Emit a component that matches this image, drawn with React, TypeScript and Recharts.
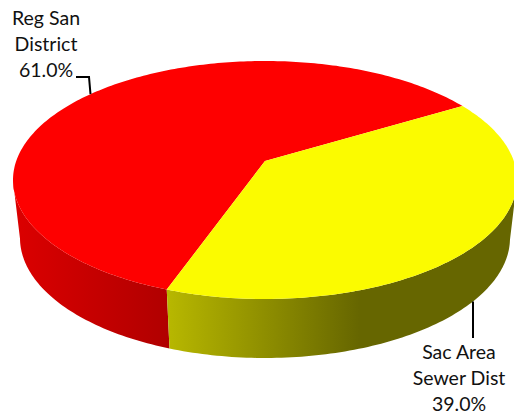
import { Pie, PieChart } from 'recharts';

const categories = ['Reg San District', 'Sac Area Sewer Dist'];
const labelLines = [
  ['Reg San', 'District', '61.0%'],
  ['Sac Area', 'Sewer Dist', '39.0%'],
];
const values = [61, 39];

const topColors = ['#fe0000', '#fbfb00'];
const wallStops = [
  [[0, '#dc0000'], [1, '#b00000']],
  [[0, '#b8b800'], [0.55, '#666600'], [1, '#666600']],
];

const CX = 265;
const CY = 180;
const RX = 252;
const RY_RATIO = 119 / 252;
// perspective: how far the pie's apex sits above the ellipse centre
const TILT = 0.16;
const BOTTOM_CY = 238;
const BOTTOM_RX = 245;
const BOTTOM_RY = 120;

const FONT = 'Lato, sans-serif';
const FONT_SIZE = 19.5;
const LINE_HEIGHT = 26;

const data = categories.map((name, i) => ({ name, value: values[i] }));

// unit circle point -> unit circle point, with the centre moved up by TILT
function project(angle: number) {
  const a = (angle * Math.PI) / 180;
  const u = Math.cos(a);
  const v = Math.sin(a);
  const d = 1 + TILT * v;
  return { x: (u * Math.sqrt(1 - TILT * TILT)) / d, y: (v + TILT) / d };
}

function rimPoints(start: number, end: number) {
  const steps = Math.max(2, Math.ceil(Math.abs(end - start)));
  const pts = [];
  for (let i = 0; i <= steps; i++) {
    pts.push(project(start + ((end - start) * i) / steps));
  }
  return pts;
}

function toPath(pts: { x: number; y: number }[]) {
  return pts.map((p, i) => `${i ? 'L' : 'M'}${p.x.toFixed(2)},${p.y.toFixed(2)}`).join(' ') + ' Z';
}

function Slice(props: any) {
  const { cx, cy, outerRadius, startAngle, endAngle, index } = props;
  const ry = outerRadius * RY_RATIO;
  const rim = rimPoints(startAngle, endAngle);
  const top = rim.map((p) => ({ x: cx + p.x * outerRadius, y: cy - p.y * ry }));
  const apex = { x: cx, y: cy - TILT * ry };

  // only the near half of the rim shows a wall
  const front = rim.filter((p) => p.y <= 0);
  const wallTop = front.map((p) => ({ x: cx + p.x * outerRadius, y: cy - p.y * ry }));
  const wallBottom = front.map((p) => ({ x: cx + p.x * BOTTOM_RX, y: BOTTOM_CY - p.y * BOTTOM_RY }));
  const wall = [...wallTop, ...wallBottom.reverse()];
  const xs = wall.map((p) => p.x);
  const id = `wall-${index}`;

  return (
    <g>
      <defs>
        <linearGradient id={id} gradientUnits="userSpaceOnUse" x1={Math.min(...xs)} x2={Math.max(...xs)} y1={0} y2={0}>
          {wallStops[index].map(([offset, color]) => (
            <stop key={offset} offset={offset} stopColor={color as string} />
          ))}
        </linearGradient>
      </defs>
      <path d={toPath(wall)} fill={`url(#${id})`} />
      <path d={toPath([apex, ...top])} fill={topColors[index]} />
    </g>
  );
}

function SliceLabel(props: any) {
  const { cx, cy, outerRadius, midAngle, index } = props;
  const p = project(midAngle);
  const lines = labelLines[index];

  if (index === 0) {
    const ry = outerRadius * RY_RATIO;
    const ex = cx + p.x * outerRadius;
    const ey = cy - p.y * ry;
    return (
      <g>
        <polyline points={`76,77 89,77 ${ex},${ey}`} fill="none" stroke="#000" strokeWidth={2} />
        {lines.map((t, i) => (
          <text key={t} x={46} y={25 + i * LINE_HEIGHT} textAnchor="middle" fontFamily={FONT} fontSize={FONT_SIZE} fill="#111">
            {t}
          </text>
        ))}
      </g>
    );
  }

  const ey = BOTTOM_CY - p.y * BOTTOM_RY;
  return (
    <g>
      <polyline points={`473,${ey} 473,338`} fill="none" stroke="#000" strokeWidth={2} />
      {lines.map((t, i) => (
        <text key={t} x={459} y={359 + i * LINE_HEIGHT} textAnchor="middle" fontFamily={FONT} fontSize={FONT_SIZE} fill="#111">
          {t}
        </text>
      ))}
    </g>
  );
}

export default function App() {
  return (
    <div style={{ position: 'absolute', left: 0, top: 0 }}>
      <PieChart width={514} height={415} margin={{ top: 0, right: 0, bottom: 0, left: 0 }}>
        <Pie
          data={data}
          dataKey="value"
          nameKey="name"
          cx={CX}
          cy={CY}
          innerRadius={0}
          outerRadius={RX}
          startAngle={250.4}
          endAngle={-109.6}
          stroke="none"
          shape={Slice}
          label={SliceLabel}
          labelLine={false}
          isAnimationActive={false}
        />
      </PieChart>
    </div>
  );
}
